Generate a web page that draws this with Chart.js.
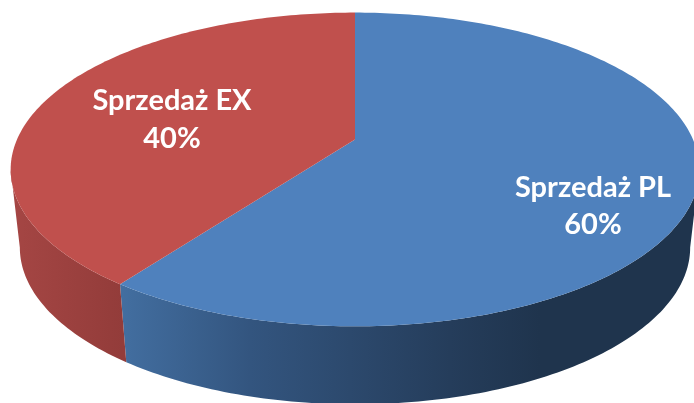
<!DOCTYPE html>
<html lang="pl">
<head>
<meta charset="utf-8">
<style>html,body{margin:0;padding:0;background:#fff;overflow:hidden}canvas{display:block}</style>
<script src="https://cdn.jsdelivr.net/npm/chart.js@4"></script>
</head>
<body>
<canvas id="c" width="694" height="403"></canvas>
<script>
const categories = ["Sprzedaż PL", "Sprzedaż EX"];
const shares = [60, 40];
const topColors = ["#4f81bd", "#c0504d"];
const sideStops = [
  [[118, "#436fa1"], [250, "#33557f"], [450, "#253d5b"], [540, "#1f344d"], [694, "#1f344d"]],
  [[11, "#a54644"], [122, "#933c3a"]]
];
const labelCenters = [[593, 188, 225], [172, 101, 139]];

/* Perspective view of the pie disc: u,v on the unit circle -> page pixels */
const view = {cx: 355, apexY: 139.5, a: 124.5, c: -0.191, kTop: 338, kBottom: 329, depth: 78};
function project(theta, bottom) {
  const u = Math.cos(theta), v = Math.sin(theta), w = 1 + view.c * v;
  return [
    view.cx + (bottom ? view.kBottom : view.kTop) * u / w,
    (view.apexY + view.a * v) / w + (bottom ? view.depth : 0)
  ];
}

const pie3d = {
  id: "pie3d",
  beforeDatasetsDraw(chart) {
    const ctx = chart.ctx, arcs = chart.getDatasetMeta(0).data, step = Math.PI / 180;
    // the rim's left and right extremes sit where sin(t) = -c: the wall is visible below that
    const rimLimit = -view.c;
    const edgeA = Math.asin(rimLimit), edgeB = Math.PI - edgeA;
    const norm = t => { let a = t % (2 * Math.PI); return a < 0 ? a + 2 * Math.PI : a; };
    arcs.forEach((arc, i) => {
      const pts = [];
      for (let t = arc.startAngle; t <= arc.endAngle + 1e-9; t += step) {
        if (Math.sin(t) >= rimLimit) pts.push(t);
      }
      const last = arc.endAngle;
      if (Math.sin(last) >= rimLimit && pts[pts.length - 1] !== last) pts.push(last);
      // add exact silhouette angles if they fall within this slice
      [edgeA, edgeB].forEach(e => {
        for (const cand of [e, e - 2 * Math.PI, e + 2 * Math.PI]) {
          if (cand >= arc.startAngle && cand <= arc.endAngle) pts.push(cand);
        }
      });
      pts.sort((a, b) => a - b);
      const g = ctx.createLinearGradient(0, 0, 694, 0);
      sideStops[i].forEach(([x, col]) => g.addColorStop(x / 694, col));
      ctx.beginPath();
      pts.forEach((t, n) => { const p = project(t, false); n ? ctx.lineTo(p[0], p[1]) : ctx.moveTo(p[0], p[1]); });
      pts.slice().reverse().forEach(t => { const p = project(t, true); ctx.lineTo(p[0], p[1]); });
      ctx.closePath();
      ctx.fillStyle = g;
      ctx.fill();
    });
    // top faces
    arcs.forEach((arc, i) => {
      ctx.beginPath();
      ctx.moveTo(view.cx, view.apexY);
      for (let t = arc.startAngle; t < arc.endAngle; t += step) {
        const p = project(t, false);
        ctx.lineTo(p[0], p[1]);
      }
      const e = project(arc.endAngle, false);
      ctx.lineTo(e[0], e[1]);
      ctx.closePath();
      ctx.fillStyle = topColors[i];
      ctx.fill();
    });
    // labels
    ctx.save();
    ctx.fillStyle = "#fff";
    ctx.font = "bold 29px Lato, 'Open Sans', sans-serif";
    ctx.textAlign = "center";
    ctx.textBaseline = "middle";
    categories.forEach((name, i) => {
      const [x, y1, y2] = labelCenters[i];
      ctx.fillText(name, x, y1);
      ctx.fillText(shares[i] + "%", x, y2);
    });
    ctx.restore();
    return false;
  }
};

new Chart(document.getElementById("c"), {
  type: "pie",
  data: {labels: categories, datasets: [{data: shares, backgroundColor: topColors, borderWidth: 0}]},
  options: {
    responsive: false,
    animation: false,
    layout: {padding: 0},
    plugins: {legend: {display: false}, tooltip: {enabled: false}}
  },
  plugins: [pie3d]
});
</script>
</body>
</html>
